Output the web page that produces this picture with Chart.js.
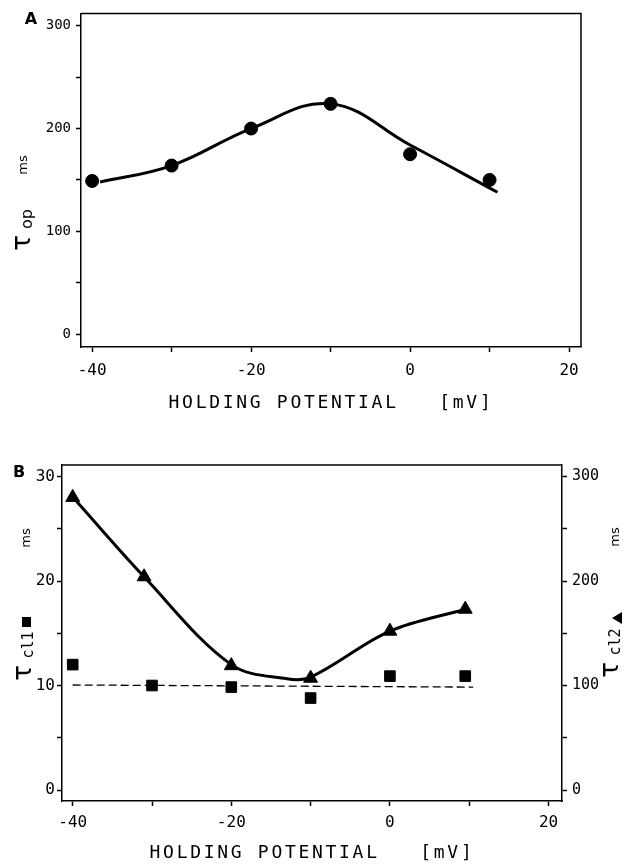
<!DOCTYPE html>
<html>
<head>
<meta charset="utf-8">
<script src="https://cdn.jsdelivr.net/npm/chart.js@4"></script>
<style>
html, body { margin: 0; padding: 0; background: #fff; }
#wrapA { position: absolute; left: 0; top: 0; width: 624px; height: 420px; }
#wrapB { position: absolute; left: 0; top: 430px; width: 624px; height: 434px; }
</style>
</head>
<body>
<div id="wrapA"><canvas id="chartA" width="624" height="420"></canvas></div>
<div id="wrapB"><canvas id="chartB" width="624" height="434"></canvas></div>
<script>
// panel A - tau op (ms) against holding potential (mV)
const potA = [-40, -30, -20, -10, 0, 10];
const tauOp = [149, 164, 200, 224, 175, 150];
const fitPotA = [-39, -30, -20, -10, 0, 11];
const fitTauOp = [148, 164, 200, 224, 184, 138];

// panel B - tau cl1 (left axis) and tau cl2 (right axis)
const potCl1 = [-40, -30, -20, -10, 0, 9.5];
const tauCl1 = [12, 10, 9.85, 8.8, 10.9, 10.9];
const potCl2 = [-40, -31, -20, -10, 0, 9.5];
const tauCl2 = [280, 204, 119, 107, 152, 173];
const fitPotB = [-39.5, -31, -20, -13, -10, 0, 9.5];
const fitTauCl2 = [276, 204, 120, 106.5, 108, 152, 173];
const dashPot = [-40, 10.5];
const dashTauCl1 = [10.05, 9.85];

// ticks
const xMajor = [-40, -20, 0, 20];
const xMinor = [-30, -10, 10];
const yMajorA = [0, 100, 200, 300];
const yMinorA = [50, 150, 250];
const yMajorB = [0, 10, 20, 30];
const yMinorB = [5, 15, 25];
const yMajorB2 = [0, 100, 200, 300];
const yMinorB2 = [50, 150, 250];

const MONO = "'DejaVu Sans Mono', monospace";
const SANS = "'DejaVu Sans', sans-serif";

function pts(xs, ys) {
    return xs.map((x, i) => ({ x: x, y: ys[i] }));
}

function axis(major, minor, min, max, pos, fontSize, pad, fit) {
    return {
        type: 'linear',
        position: pos,
        min: min,
        max: max,
        afterBuildTicks: s => {
            s.ticks = major.concat(minor).sort((a, b) => a - b).map(v => ({ value: v }));
        },
        afterFit: fit,
        ticks: {
            color: '#000',
            autoSkip: false,
            maxRotation: 0,
            padding: pad,
            font: { family: MONO, size: fontSize },
            callback: v => major.includes(v) ? String(v) : ''
        },
        grid: { drawOnChartArea: false, tickLength: 5, tickWidth: 1.5, tickColor: '#000' },
        border: { color: '#000', width: 1.5 }
    };
}

function vText(ctx, text, x, y, font) {
    ctx.save();
    ctx.translate(x, y);
    ctx.rotate(-Math.PI / 2);
    ctx.font = font;
    ctx.fillStyle = '#000';
    ctx.textAlign = 'center';
    ctx.textBaseline = 'middle';
    ctx.fillText(text, 0, 0);
    ctx.restore();
}

function xTitle(ctx, x, y) {
    ctx.save();
    ctx.font = '18px ' + MONO;
    ctx.letterSpacing = '2.7px';
    ctx.fillStyle = '#000';
    ctx.textAlign = 'center';
    ctx.textBaseline = 'middle';
    ctx.fillText('HOLDING POTENTIAL   [mV]', x, y);
    ctx.restore();
}

const panelA = {
    id: 'panelA',
    afterDraw(chart) {
        const ctx = chart.ctx;
        const a = chart.chartArea;
        ctx.save();
        ctx.strokeStyle = '#000';
        ctx.lineWidth = 1.5;
        ctx.beginPath();
        ctx.moveTo(a.left, a.top);
        ctx.lineTo(a.right, a.top);
        ctx.lineTo(a.right, a.bottom);
        ctx.stroke();
        ctx.fillStyle = '#000';
        ctx.font = 'bold 16px ' + SANS;
        ctx.textAlign = 'center';
        ctx.textBaseline = 'middle';
        ctx.fillText('A', 31, 20);
        ctx.restore();
        vText(ctx, 'τ', 23, 243, '26px ' + SANS);
        vText(ctx, 'op', 28, 219, '16px ' + SANS);
        vText(ctx, 'ms', 24, 165, '13px ' + SANS);
        xTitle(ctx, (a.left + a.right) / 2, 403);
    }
};

const panelB = {
    id: 'panelB',
    afterDraw(chart) {
        const ctx = chart.ctx;
        const a = chart.chartArea;
        ctx.save();
        ctx.strokeStyle = '#000';
        ctx.lineWidth = 1.5;
        ctx.beginPath();
        ctx.moveTo(a.left, a.top);
        ctx.lineTo(a.right, a.top);
        ctx.stroke();
        ctx.fillStyle = '#000';
        ctx.font = 'bold 16px ' + SANS;
        ctx.textAlign = 'center';
        ctx.textBaseline = 'middle';
        ctx.fillText('B', 19, 43);
        // square key on the left title
        ctx.fillRect(22, 187, 9, 10);
        // triangle key on the right title (rotated with the text)
        ctx.beginPath();
        ctx.moveTo(612, 188);
        ctx.lineTo(622, 182);
        ctx.lineTo(622, 194);
        ctx.closePath();
        ctx.fill();
        ctx.restore();
        vText(ctx, 'τ', 24, 243, '26px ' + SANS);
        vText(ctx, 'cl1', 29, 215, '15px ' + MONO);
        vText(ctx, 'ms', 27, 108, '13px ' + SANS);
        vText(ctx, 'τ', 611, 240, '26px ' + SANS);
        vText(ctx, 'cl2', 616, 212, '15px ' + MONO);
        vText(ctx, 'ms', 616, 107, '13px ' + SANS);
        xTitle(ctx, (a.left + a.right) / 2, 423);
    }
};

const configA = {
    type: 'line',
    data: {
        datasets: [
            {
                label: 'fit',
                data: pts(fitPotA, fitTauOp),
                borderColor: '#000',
                borderWidth: 3,
                pointRadius: 0,
                tension: 0.4
            },
            {
                label: 'tau op',
                data: pts(potA, tauOp),
                showLine: false,
                pointStyle: 'circle',
                pointRadius: 6.5,
                pointBackgroundColor: '#000',
                pointBorderColor: '#000'
            }
        ]
    },
    options: {
        responsive: false,
        animation: false,
        layout: { padding: { left: 0, right: 43, top: 10, bottom: 0 } },
        plugins: { legend: { display: false }, tooltip: { enabled: false } },
        scales: {
            x: axis(xMajor, xMinor, -41.4, 21.5, 'bottom', 16, 9, s => { s.height = 73; }),
            y: axis(yMajorA, yMinorA, -12.5, 312, 'left', 14, 5, s => { s.width = 81; })
        }
    },
    plugins: [panelA]
};
new Chart(document.getElementById('chartA'), configA);

const configB = {
    type: 'line',
    data: {
        datasets: [
            {
                label: 'fit cl2',
                data: pts(fitPotB, fitTauCl2),
                yAxisID: 'y2',
                borderColor: '#000',
                borderWidth: 3,
                pointRadius: 0,
                tension: 0.35
            },
            {
                label: 'mean cl1',
                data: pts(dashPot, dashTauCl1),
                yAxisID: 'y',
                borderColor: '#000',
                borderWidth: 1.3,
                borderDash: [8, 4],
                pointRadius: 0
            },
            {
                label: 'tau cl2',
                data: pts(potCl2, tauCl2),
                yAxisID: 'y2',
                showLine: false,
                pointStyle: 'triangle',
                pointRadius: 8,
                pointBackgroundColor: '#000',
                pointBorderColor: '#000'
            },
            {
                label: 'tau cl1',
                data: pts(potCl1, tauCl1),
                yAxisID: 'y',
                showLine: false,
                pointStyle: 'rect',
                pointRadius: 7.5,
                pointBackgroundColor: '#000',
                pointBorderColor: '#000'
            }
        ]
    },
    options: {
        responsive: false,
        animation: false,
        layout: { padding: { left: 0, right: 0, top: 35, bottom: 0 } },
        plugins: { legend: { display: false }, tooltip: { enabled: false } },
        scales: {
            x: axis(xMajor, xMinor, -41.35, 21.7, 'bottom', 16, 7, s => { s.height = 63; }),
            y: axis(yMajorB, yMinorB, -1.05, 31.1, 'left', 16, 2, s => { s.width = 62; }),
            y2: axis(yMajorB2, yMinorB2, -10.5, 311, 'right', 15, 5, s => { s.width = 62; })
        }
    },
    plugins: [panelB]
};
new Chart(document.getElementById('chartB'), configB);
</script>
</body>
</html>
